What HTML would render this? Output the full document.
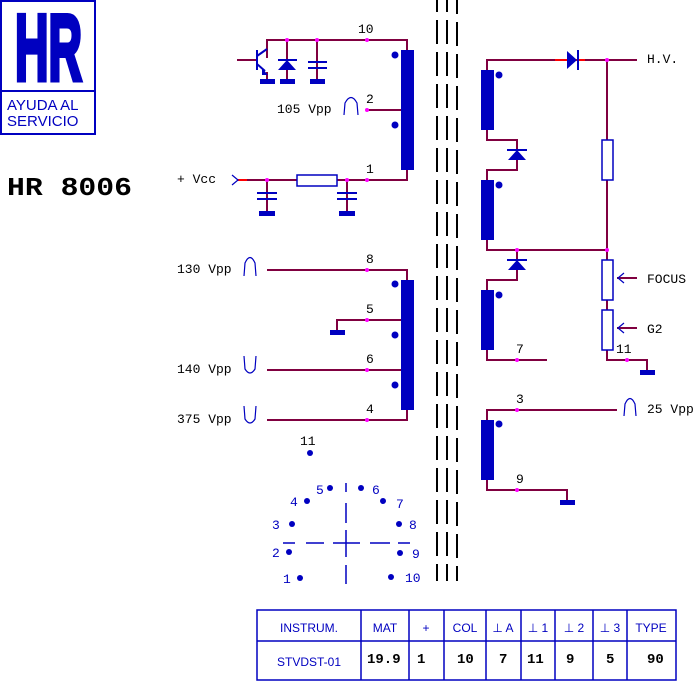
<!DOCTYPE html>
<html><head><meta charset="utf-8"><style>
html,body{margin:0;padding:0;background:#fff;}
svg{display:block;}
.m{font-family:"Liberation Mono",monospace;font-size:13px;fill:#000;}
.b{font-family:"Liberation Sans",sans-serif;fill:#0000c0;}
.tb{font-family:"Liberation Mono",monospace;font-weight:bold;font-size:14px;fill:#000;}
</style></head><body>
<svg width="696" height="681" viewBox="0 0 696 681" xmlns="http://www.w3.org/2000/svg">
<!-- logo -->
<rect x="1" y="1" width="94" height="133" fill="none" stroke="#0000c0" stroke-width="2"/>
<line x1="1" y1="91" x2="95" y2="91" stroke="#0000c0" stroke-width="2"/>
<text transform="translate(15,80) scale(0.5,1)" font-family="Liberation Sans" font-weight="bold" font-size="94" fill="#0000c0" stroke="#0000c0" stroke-width="5" textLength="134" lengthAdjust="spacingAndGlyphs">HR</text>
<text x="7" y="110" class="b" font-size="15">AYUDA AL</text>
<text x="7" y="126" class="b" font-size="15">SERVICIO</text>
<text x="7" y="195" font-family="Liberation Mono" font-weight="bold" font-size="26" fill="#000" textLength="125" lengthAdjust="spacingAndGlyphs">HR 8006</text>

<!-- core -->
<g stroke="#000" stroke-width="2" stroke-dasharray="24 8">
<line x1="437" y1="-12" x2="437" y2="581"/>
<line x1="447" y1="-12" x2="447" y2="581"/>
<line x1="457" y1="-10" x2="457" y2="581"/>
</g>

<g stroke="#800040" stroke-width="2" fill="none">
<polyline points="267,58 267,40 407,40 407,50"/>
<line x1="237" y1="60" x2="257" y2="60"/>
<line x1="287" y1="40" x2="287" y2="80"/>
<line x1="317" y1="40" x2="317" y2="80"/>
<line x1="267" y1="72" x2="267" y2="80"/>
<line x1="367" y1="110" x2="407" y2="110"/>
<polyline points="237,180 407,180 407,170"/>
<line x1="267" y1="180" x2="267" y2="212"/>
<line x1="347" y1="180" x2="347" y2="212"/>
<polyline points="267,270 407,270 407,280"/>
<polyline points="337,330 337,320 407,320"/>
<line x1="267" y1="370" x2="407" y2="370"/>
<polyline points="267,420 407,420 407,410"/>
<polyline points="487,70 487,60 637,60"/>
<polyline points="487,130 487,140 517,140 517,170 487,170 487,180"/>
<polyline points="487,240 487,250 607,250"/>
<polyline points="517,250 517,280 487,280 487,290"/>
<polyline points="487,350 487,360 547,360"/>
<polyline points="607,60 607,350 607,360 647,360 647,372"/>
<line x1="617" y1="278" x2="637" y2="278"/>
<line x1="617" y1="328" x2="637" y2="328"/>
<polyline points="487,420 487,410 617,410"/>
<polyline points="487,480 487,490 567,490 567,502"/>
</g>
<g stroke="#ff0000" stroke-width="2">
<line x1="237" y1="180" x2="247" y2="180"/>
<line x1="555" y1="60" x2="585" y2="60"/>
</g>

<g fill="#0000c0">
<rect x="401" y="50" width="13" height="120"/>
<rect x="401" y="280" width="13" height="130"/>
<rect x="481" y="70" width="13" height="60"/>
<rect x="481" y="180" width="13" height="60"/>
<rect x="481" y="290" width="13" height="60"/>
<rect x="481" y="420" width="13" height="60"/>
<circle cx="395" cy="55" r="3.5"/><circle cx="395" cy="125" r="3.5"/>
<circle cx="395" cy="284" r="3.5"/><circle cx="395" cy="335" r="3.5"/><circle cx="395" cy="385" r="3.5"/>
<circle cx="499" cy="75" r="3.5"/><circle cx="499" cy="185" r="3.5"/><circle cx="499" cy="295" r="3.5"/><circle cx="499" cy="424" r="3.5"/>
<rect x="260" y="79" width="15" height="5"/><rect x="280" y="79" width="15" height="5"/><rect x="310" y="79" width="15" height="5"/>
<rect x="259" y="211" width="16" height="5"/><rect x="339" y="211" width="16" height="5"/>
<rect x="330" y="330" width="15" height="5"/>
<rect x="640" y="370" width="15" height="5"/>
<rect x="560" y="500" width="15" height="5"/>
<polygon points="287,60 278,70 296,70"/>
<polygon points="517,150 508,160 526,160"/>
<polygon points="517,260 508,270 526,270"/>
<polygon points="567,51 567,69 577,60"/>
</g>
<g stroke="#0000c0" stroke-width="2" fill="none">
<line x1="278" y1="60" x2="297" y2="60"/>
<line x1="507" y1="150" x2="527" y2="150"/>
<line x1="507" y1="260" x2="527" y2="260"/>
<line x1="578" y1="50" x2="578" y2="70"/>
<line x1="257" y1="50" x2="257" y2="70"/>
<line x1="257" y1="56" x2="267" y2="49"/>
<line x1="257" y1="64" x2="265" y2="71"/>
<line x1="308" y1="62" x2="327" y2="62"/><line x1="308" y1="68" x2="327" y2="68"/>
<line x1="257" y1="193" x2="277" y2="193"/><line x1="257" y1="199" x2="277" y2="199"/>
<line x1="337" y1="193" x2="357" y2="193"/><line x1="337" y1="199" x2="357" y2="199"/>
</g>
<g fill="#0000c0"><polygon points="262,68 268,75 262,75"/></g>
<g stroke="#0000c0" stroke-width="1.5" fill="#fff">
<rect x="297" y="175" width="40" height="11"/>
<rect x="602" y="140" width="11" height="40"/>
<rect x="602" y="260" width="11" height="40"/>
<rect x="602" y="310" width="11" height="40"/>
</g>
<g stroke="#0000c0" stroke-width="1.2" fill="none">
<polyline points="232,175 238,180 232,185"/>
<polyline points="624,273 618,278 624,283"/>
<polyline points="624,323 618,328 624,333"/>
<path d="M344,115 L345,103 Q351,92 357,103 L358,115"/>
<path d="M244,276 L245,263 Q250,252 255,263 L256,276"/>
<path d="M244,356 L245,369 Q250,377 255,369 L256,356"/>
<path d="M244,406 L245,419 Q250,427 255,419 L256,406"/>
<path d="M624,416 L625,404 Q630,393 635,404 L636,416"/>
</g>
<g fill="#ff00ff">
<circle cx="287" cy="40" r="2"/><circle cx="317" cy="40" r="2"/><circle cx="367" cy="40" r="2"/>
<circle cx="367" cy="110" r="2"/>
<circle cx="267" cy="180" r="2"/><circle cx="347" cy="180" r="2"/><circle cx="367" cy="180" r="2"/>
<circle cx="367" cy="270" r="2"/><circle cx="367" cy="320" r="2"/><circle cx="367" cy="370" r="2"/><circle cx="367" cy="420" r="2"/>
<circle cx="607" cy="60" r="2"/><circle cx="517" cy="250" r="2"/><circle cx="607" cy="250" r="2"/>
<circle cx="517" cy="360" r="2"/><circle cx="627" cy="360" r="2"/>
<circle cx="517" cy="410" r="2"/><circle cx="517" cy="490" r="2"/>
</g>
<text class="m" x="358" y="33">10</text>
<text class="m" x="366" y="103">2</text>
<text class="m" x="277" y="113">105 Vpp</text>
<text class="m" x="366" y="173">1</text>
<text class="m" x="177" y="183">+ Vcc</text>
<text class="m" x="366" y="263">8</text>
<text class="m" x="366" y="313">5</text>
<text class="m" x="366" y="363">6</text>
<text class="m" x="366" y="413">4</text>
<text class="m" x="177" y="273">130 Vpp</text>
<text class="m" x="177" y="373">140 Vpp</text>
<text class="m" x="177" y="423">375 Vpp</text>
<text class="m" x="647" y="63">H.V.</text>
<text class="m" x="647" y="283">FOCUS</text>
<text class="m" x="647" y="333">G2</text>
<text class="m" x="516" y="353">7</text>
<text class="m" x="616" y="353">11</text>
<text class="m" x="516" y="403">3</text>
<text class="m" x="516" y="483">9</text>
<text class="m" x="647" y="413">25 Vpp</text>
<text class="m" x="300" y="445">11</text>
<g fill="#0000c0">
<circle cx="310" cy="453" r="3"/><circle cx="330" cy="488" r="3"/><circle cx="361" cy="488" r="3"/>
<circle cx="307" cy="501" r="3"/><circle cx="383" cy="501" r="3"/><circle cx="292" cy="524" r="3"/>
<circle cx="399" cy="524" r="3"/><circle cx="289" cy="552" r="3"/><circle cx="400" cy="553" r="3"/>
<circle cx="300" cy="578" r="3"/><circle cx="391" cy="577" r="3"/>
</g>
<g class="b" font-size="13" style="font-family:'Liberation Mono',monospace">
<text x="316" y="494">5</text><text x="372" y="494">6</text>
<text x="290" y="506">4</text><text x="396" y="508">7</text>
<text x="272" y="529">3</text><text x="409" y="529">8</text>
<text x="272" y="557">2</text><text x="412" y="558">9</text>
<text x="283" y="583">1</text><text x="405" y="582">10</text>
</g>
<g stroke="#0000c0" stroke-width="1.5">
<line x1="283" y1="543" x2="295" y2="543"/><line x1="306" y1="543" x2="324" y2="543"/>
<line x1="333" y1="543" x2="360" y2="543"/><line x1="370" y1="543" x2="390" y2="543"/>
<line x1="398" y1="543" x2="410" y2="543"/>
<line x1="346" y1="483" x2="346" y2="492"/><line x1="346" y1="503" x2="346" y2="523"/>
<line x1="346" y1="530" x2="346" y2="557"/><line x1="346" y1="565" x2="346" y2="584"/>
</g>
<g stroke="#0000c0" stroke-width="1.5" fill="none">
<rect x="257" y="610" width="419" height="70"/>
<line x1="257" y1="641" x2="676" y2="641"/>
<line x1="361" y1="610" x2="361" y2="680"/><line x1="409" y1="610" x2="409" y2="680"/>
<line x1="444" y1="610" x2="444" y2="680"/><line x1="486" y1="610" x2="486" y2="680"/>
<line x1="521" y1="610" x2="521" y2="680"/><line x1="555" y1="610" x2="555" y2="680"/>
<line x1="593" y1="610" x2="593" y2="680"/><line x1="627" y1="610" x2="627" y2="680"/>
</g>
<g class="b" font-size="12" text-anchor="middle">
<text x="309" y="632">INSTRUM.</text><text x="385" y="632">MAT</text><text x="426" y="632">+</text>
<text x="465" y="632">COL</text><text x="503" y="632">⊥ A</text><text x="538" y="632">⊥ 1</text>
<text x="574" y="632">⊥ 2</text><text x="610" y="632">⊥ 3</text><text x="651" y="632">TYPE</text>
<text x="309" y="666">STVDST-01</text>
</g>
<g class="tb">
<text x="367" y="663">19.9</text><text x="417" y="663">1</text><text x="457" y="663">10</text>
<text x="499" y="663">7</text><text x="527" y="663">11</text><text x="566" y="663">9</text>
<text x="606" y="663">5</text><text x="647" y="663">90</text>
</g>
</svg>
</body></html>
